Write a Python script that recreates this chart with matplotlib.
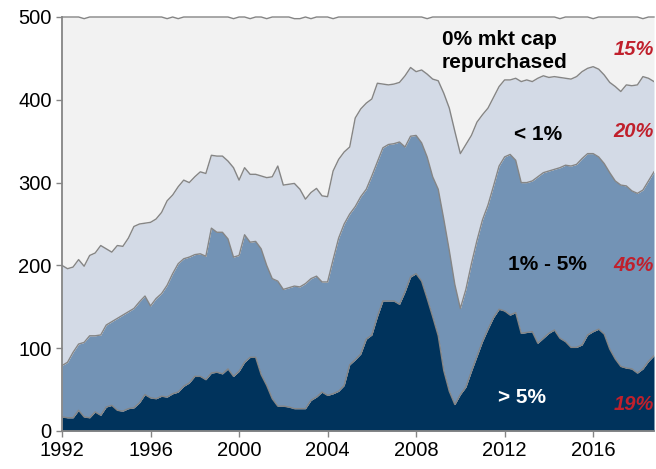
import numpy as np
import matplotlib
matplotlib.use("Agg")
import matplotlib.pyplot as plt

# Quarterly data, 1992Q1 .. 2018Q4 (108 quarters)
start_year = 1992
n_quarters = 108

# Number of S&P 500 companies repurchasing > 5% of market cap
count_gt5 = [17, 16, 16, 25, 17, 16, 23, 19, 29, 31, 25, 24,
             27, 28, 34, 44, 40, 39, 42, 41, 45, 47, 54, 58,
             66, 66, 62, 70, 71, 69, 75, 66, 72, 83, 89, 89,
             68, 55, 39, 30, 30, 29, 27, 27, 27, 37, 41, 47,
             43, 45, 48, 55, 80, 86, 93, 111, 116, 138, 157, 157,
             157, 153, 168, 186, 190, 181, 160, 138, 115, 73, 48, 32,
             44, 53, 72, 90, 108, 123, 137, 147, 145, 140, 143, 118,
             119, 120, 106, 112, 118, 122, 112, 108, 101, 101, 104, 116,
             120, 123, 117, 99, 87, 78, 76, 75, 70, 75, 84, 91]

# Number repurchasing >= 1% (cumulative: >5% plus 1%-5%)
count_ge1 = [79, 83, 95, 105, 107, 115, 115, 116, 128, 132, 136, 140,
             144, 148, 156, 163, 151, 160, 166, 176, 190, 202, 208, 210,
             213, 214, 211, 245, 240, 240, 232, 210, 212, 237, 228, 229,
             220, 200, 184, 181, 171, 173, 175, 174, 178, 184, 187, 180,
             180, 207, 233, 250, 262, 271, 283, 292, 308, 325, 342, 346,
             347, 349, 343, 356, 357, 348, 331, 307, 292, 256, 218, 177,
             148, 171, 202, 230, 255, 273, 296, 320, 331, 334, 327, 300,
             300, 302, 307, 312, 314, 316, 318, 321, 320, 322, 329, 335,
             335, 331, 323, 312, 302, 297, 296, 290, 287, 291, 302, 313]

# Number repurchasing any amount (> 0%)
count_any = [200, 196, 198, 207, 199, 212, 215, 224, 220, 216, 224, 223,
             233, 247, 250, 251, 252, 256, 264, 278, 285, 295, 303, 300,
             307, 313, 311, 333, 332, 332, 326, 318, 303, 318, 310, 310,
             308, 306, 307, 320, 297, 298, 299, 292, 280, 288, 293, 284,
             283, 314, 328, 337, 343, 378, 389, 396, 401, 420, 419, 418,
             419, 421, 429, 439, 434, 436, 431, 425, 423, 408, 390, 362,
             335, 346, 357, 373, 382, 390, 403, 416, 424, 424, 426, 422,
             424, 422, 426, 429, 427, 428, 427, 426, 425, 428, 434, 438,
             440, 437, 430, 421, 416, 410, 418, 417, 418, 428, 426, 422]

# Total number of index constituents
count_total = [500, 500, 500, 500, 498, 500, 500, 500, 500, 500, 500, 500,
               500, 500, 500, 500, 500, 500, 500, 498, 500, 498, 500, 500,
               500, 500, 500, 500, 500, 500, 500, 498, 500, 500, 498, 500,
               500, 498, 500, 500, 500, 500, 498, 498, 500, 498, 500, 500,
               500, 498, 500, 500, 500, 500, 500, 500, 500, 500, 500, 500,
               500, 500, 500, 500, 500, 500, 498, 500, 500, 500, 500, 500,
               500, 500, 500, 500, 500, 500, 500, 500, 500, 500, 500, 500,
               500, 500, 500, 500, 500, 500, 498, 500, 500, 500, 500, 500,
               498, 500, 500, 500, 500, 500, 500, 500, 500, 498, 500, 500]

band_labels = ["> 5%", "1% - 5%", "< 1%", "0% mkt cap", "repurchased"]
share_labels = ["19%", "46%", "20%", "15%"]
x_ticks = [1992, 1996, 2000, 2004, 2008, 2012, 2016]
y_ticks = [0, 100, 200, 300, 400, 500]

c_dark = "#00335C"
c_mid = "#7393B5"
c_light = "#D3DAE6"
c_bg = "#F2F2F2"
c_line = "#858585"
c_red = "#C0202C"

plt.rcParams['font.family'] = ['Liberation Sans', 'DejaVu Sans']

W, H = 656, 469
fig = plt.figure(figsize=(W / 100, H / 100), dpi=100)
x_left, x_right, y_top, y_bot = 62, 654, 17, 431
ax = fig.add_axes([x_left / W, 1 - y_bot / H, (x_right - x_left) / W, (y_bot - y_top) / H])

t = start_year + np.arange(n_quarters) / 4.0
zeros = np.zeros(n_quarters)

ax.fill_between(t, zeros, count_gt5, color=c_dark, lw=0)
ax.fill_between(t, count_gt5, count_ge1, color=c_mid, lw=0)
ax.fill_between(t, count_ge1, count_any, color=c_light, lw=0)
ax.fill_between(t, count_any, count_total, color=c_bg, lw=0)
for series in (count_gt5, count_ge1, count_any):
    ax.plot(t, series, color=c_line, lw=1.0)
ax.plot(t, count_total, color=c_line, lw=1.0, clip_on=False)

ax.set_xlim(t[0], t[-1])
ax.set_ylim(0, 500)
ax.set_xticks(x_ticks)
ax.set_yticks(y_ticks)
ax.tick_params(axis='both', labelsize=14.5, color=c_line, width=1.0, length=4,
               labelcolor='black', direction='out')
for s in ('top', 'right'):
    ax.spines[s].set_visible(False)
for s in ('left', 'bottom'):
    ax.spines[s].set_color(c_line)
    ax.spines[s].set_linewidth(1.3)


def ftext(x, y, s, **kw):
    fig.text(x / W, 1 - y / H, s, va='baseline', **kw)


ftext(442, 45, band_labels[3], fontsize=15, fontweight='bold', color='black', ha='left')
ftext(442, 68, band_labels[4], fontsize=15, fontweight='bold', color='black', ha='left')
ftext(514, 140, band_labels[2], fontsize=15, fontweight='bold', color='black', ha='left')
ftext(508, 270, band_labels[1], fontsize=15, fontweight='bold', color='black', ha='left')
ftext(498, 403, band_labels[0], fontsize=15, fontweight='bold', color='white', ha='left')

for lab, yb in zip(share_labels, [410, 271, 137, 55]):
    ftext(654, yb, lab, fontsize=14.5, fontweight='bold', fontstyle='italic',
          color=c_red, ha='right')

fig.savefig("out.png", dpi=100)
